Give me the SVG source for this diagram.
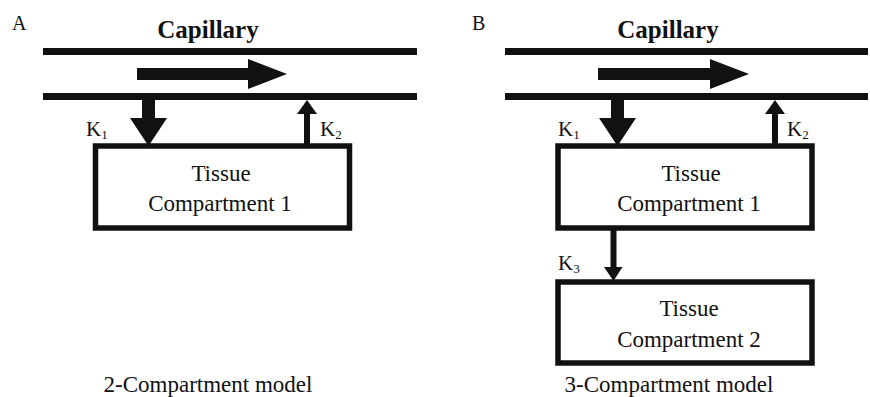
<svg xmlns="http://www.w3.org/2000/svg" width="870" height="397" viewBox="0 0 870 397">
<style>
.t{font-family:"Liberation Serif","Times New Roman",serif;fill:#111}
.lbl{font-size:23px;text-anchor:middle}
.cap{font-size:25px;font-weight:bold;text-anchor:middle}
.k{font-size:21px}
.sub{font-size:13px}
.box{fill:#fff;stroke:#111;stroke-width:5.5}
.wall{stroke:#111;stroke-width:7}
.fill{fill:#111}
</style>
<rect width="870" height="397" fill="#fff"/>
<g id="panelA">
  <text class="t" x="12" y="30" font-size="20">A</text>
  <text class="t cap" x="208" y="38">Capillary</text>
  <g id="capillaryA">
    <line class="wall" x1="43" y1="51.5" x2="417" y2="51.5"/>
    <line class="wall" x1="43" y1="96.5" x2="417" y2="96.5"/>
  </g>
  <g id="tissueA1">
    <rect class="box" x="95.5" y="146" width="254" height="82"/>
    <text class="t lbl" x="221" y="181">Tissue</text>
    <text class="t lbl" x="220" y="211">Compartment 1</text>
  </g>
  <text class="t lbl" x="208" y="392">2-Compartment model</text>
</g>
<g id="panelB">
  <text class="t" x="472" y="30" font-size="20">B</text>
  <text class="t cap" x="668" y="38">Capillary</text>
  <g id="capillaryB">
    <line class="wall" x1="505" y1="51.5" x2="868" y2="51.5"/>
    <line class="wall" x1="505" y1="96.5" x2="868" y2="96.5"/>
  </g>
  <g id="tissueB1">
    <rect class="box" x="558" y="146" width="254" height="82"/>
    <text class="t lbl" x="691" y="181">Tissue</text>
    <text class="t lbl" x="689" y="211">Compartment 1</text>
  </g>
  <g id="tissueB2">
    <rect class="box" x="558" y="282" width="254" height="81"/>
    <text class="t lbl" x="689" y="316">Tissue</text>
    <text class="t lbl" x="689" y="347">Compartment 2</text>
  </g>
  <text class="t lbl" x="669" y="392">3-Compartment model</text>
</g>
<g id="connectors">
  <!-- flow arrows -->
  <polygon class="fill" points="137,68 248,68 248,59 287,74 248,89 248,80 137,80"/>
  <polygon class="fill" points="598,68 710,68 710,59 749,74 710,89 710,80 598,80"/>
  <!-- A: K1, K2 -->
  <polygon class="fill" points="142,100 155,100 155,118 167,118 148.5,146 130,118 142,118"/>
  <polygon class="fill" points="304,145 310,145 310,114 317,114 307,100 297,114 304,114"/>
  <!-- B: K1, K2, K3 -->
  <polygon class="fill" points="611,100 624,100 624,118 636,118 617.5,146 599,118 611,118"/>
  <polygon class="fill" points="772,145 778,145 778,114 785,114 775,100 765,114 772,114"/>
  <polygon class="fill" points="610.5,229 616.5,229 616.5,267 622.5,267 613.5,281 604,267 610.5,267"/>
</g>
<g id="labels">
  <text class="t k" x="86" y="136">K<tspan class="sub" dy="3">1</tspan></text>
  <text class="t k" x="320" y="136">K<tspan class="sub" dy="3">2</tspan></text>
  <text class="t k" x="558" y="136">K<tspan class="sub" dy="3">1</tspan></text>
  <text class="t k" x="787" y="136">K<tspan class="sub" dy="3">2</tspan></text>
  <text class="t k" x="558" y="270">K<tspan class="sub" dy="3">3</tspan></text>
</g>
</svg>
